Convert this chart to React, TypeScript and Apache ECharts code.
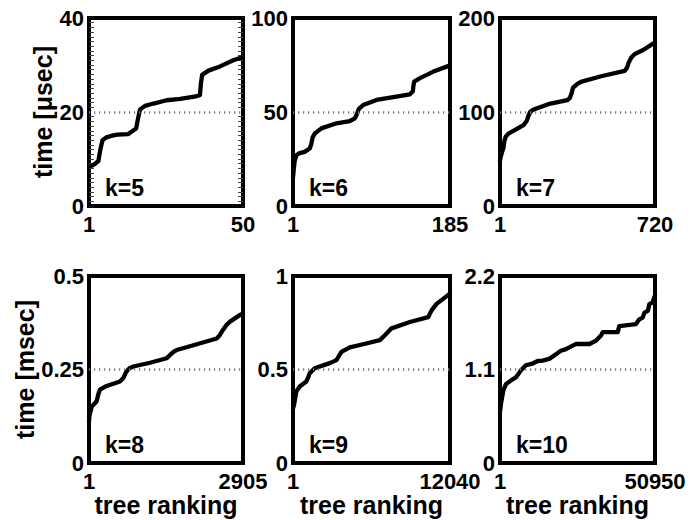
import React, { useEffect, useRef } from "react";
import * as echarts from "echarts";

// ---- data ----
const kLabels = ["k=5", "k=6", "k=7", "k=8", "k=9", "k=10"];
const ranks = [50, 185, 720, 2905, 12040, 50950];
const yMaxes = [40, 100, 200, 0.5, 1, 2.2];
const yTickLabels = [
  ["0", "20", "40"],
  ["0", "50", "100"],
  ["0", "100", "200"],
  ["0", "0.25", "0.5"],
  ["0", "0.5", "1"],
  ["0", "1.1", "2.2"],
];
const yNames = ["time [μsec]", "time [msec]"];
const xName = "tree ranking";

const k5 = [
  [1, 8.5], [2, 8.6], [3, 9], [4, 9.6], [4.6, 12], [5.3, 14], [6.5, 14.6], [8, 14.9],
  [10, 15.2], [13.5, 15.3], [14.5, 15.8], [16, 16.5], [16.6, 18.6], [17.2, 20.5],
  [18.8, 21.3], [21.5, 21.8], [25.7, 22.5], [30, 22.8], [35, 23.3], [36.3, 23.6],
  [36.6, 26], [37, 27.9], [39, 28.8], [42.7, 29.7], [46.9, 31], [50, 31.7],
];
const k6 = [
  [1, 15], [2, 20], [3, 24], [5, 27], [8, 28], [14.7, 28.8], [20.6, 30.6], [22.5, 33],
  [24, 36.5], [26.5, 38.6], [34.3, 41.3], [52, 44], [67.6, 45.2], [73.5, 46.6], [76, 49],
  [78, 51.5], [83.2, 53.7], [98.9, 56.4], [122, 58.2], [138, 59.4], [141.5, 61], [142, 63.5],
  [143, 66.2], [149.8, 68], [165.6, 71.5], [185, 74.8],
];
const k7 = [
  [1, 48], [4, 52], [10, 57], [17, 62], [22, 70], [28, 74], [40, 77], [79, 82], [110, 86],
  [126, 91], [133, 96], [141, 100], [155, 102.5], [173, 104], [235, 109], [314, 112.7],
  [325, 115], [333, 120], [340, 126], [360, 130], [376, 132], [470, 138], [579, 143.8],
  [590, 147], [597, 152], [610, 158], [625, 161.5], [665, 166], [720, 174],
];
const k8 = [
  [1, 0.11], [7, 0.125], [50, 0.15], [145, 0.165], [180, 0.185], [208, 0.196], [334, 0.206],
  [585, 0.218], [648, 0.227], [700, 0.243], [760, 0.253], [837, 0.258], [1152, 0.268],
  [1466, 0.28], [1529, 0.289], [1600, 0.298], [1655, 0.302], [1969, 0.315], [2409, 0.333],
  [2470, 0.342], [2504, 0.351], [2600, 0.37], [2661, 0.378], [2850, 0.396], [2905, 0.4],
];
const k9 = [
  [1, 0.29], [78, 0.31], [257, 0.383], [513, 0.409], [1025, 0.436], [1150, 0.455],
  [1281, 0.48], [1665, 0.507], [2818, 0.534], [3330, 0.55], [3550, 0.575], [3714, 0.594],
  [4355, 0.618], [5379, 0.635], [6660, 0.657], [7044, 0.683], [7556, 0.72], [8965, 0.754],
  [10373, 0.78], [10629, 0.816], [11013, 0.851], [11910, 0.899], [12040, 0.905],
];
const k10 = [
  [1, 0.6], [330, 0.7], [1100, 0.854], [2000, 0.93], [3600, 0.97], [5300, 1.01], [6900, 1.09],
  [8500, 1.15], [10700, 1.17], [12400, 1.2], [14000, 1.205], [16200, 1.225], [18400, 1.28],
  [20000, 1.32], [21700, 1.34], [23900, 1.38], [25000, 1.4], [29400, 1.4], [31600, 1.44],
  [33200, 1.5], [33800, 1.54], [38700, 1.54], [39200, 1.61], [44700, 1.635], [45800, 1.69],
  [46900, 1.71], [47500, 1.77], [48600, 1.79], [49100, 1.87], [50200, 1.89], [50700, 1.95],
  [50950, 1.97],
];
const seriesData = [k5, k6, k7, k8, k9, k10];

// ---- layout ----
const FONT = "Liberation Sans, Arial, Helvetica, sans-serif";
const cols = [
  { left: 89, width: 154 },
  { left: 293, width: 157 },
  { left: 500, width: 155 },
];
const rows = [
  { top: 18, height: 188 },
  { top: 276, height: 187 },
];

export default function App() {
  const ref = useRef<HTMLDivElement>(null);
  useEffect(() => {
    if (!ref.current) return;
    const chart = echarts.init(ref.current, null, { renderer: "svg" });
    const grids: any[] = [];
    const xAxes: any[] = [];
    const yAxes: any[] = [];
    const series: any[] = [];
    const graphics: any[] = [];
    const labelStyle = { fontFamily: FONT, fontWeight: "bold", fontSize: 22, color: "#000" };
    const nameStyle = { fontFamily: FONT, fontWeight: "bold", fontSize: 25, color: "#000" };

    for (let i = 0; i < 6; i++) {
      const r = Math.floor(i / 3);
      const c = i % 3;
      const col = cols[c];
      const row = rows[r];
      grids.push({
        left: col.left,
        top: row.top,
        width: col.width,
        height: row.height,
        show: true,
        borderWidth: 4,
        borderColor: "#000",
        backgroundColor: "transparent",
        containLabel: false,
        outerBoundsMode: "none",
      });
      const N = ranks[i];
      xAxes.push({
        type: "value",
        gridIndex: i,
        min: 1,
        max: N,
        axisLine: { show: false },
        axisTick: { show: false },
        splitLine: { show: false },
        axisLabel: {
          ...labelStyle,
          margin: 7,
          showMinLabel: true,
          showMaxLabel: true,
          formatter: (v: number) => (v === 1 || v === N ? String(v) : ""),
        },
        name: r === 1 ? xName : "",
        nameLocation: "middle",
        nameGap: 29,
        nameTextStyle: nameStyle,
      });
      const M = yMaxes[i];
      const labels = yTickLabels[i];
      yAxes.push({
        type: "value",
        gridIndex: i,
        min: 0,
        max: M,
        interval: M / 2,
        axisLine: { show: false },
        axisTick: { show: false, inside: true },
        splitLine: { show: false },
        minorTick:
          i === 0
            ? { show: true, splitNumber: 20, length: 5, lineStyle: { color: "#444", width: 1 } }
            : { show: false },
        minorSplitLine: { show: false },
        axisLabel: {
          ...labelStyle,
          margin: 5,
          formatter: (v: number) => {
            const idx = Math.round((v / M) * 2);
            return labels[idx] ?? "";
          },
        },
        name: c === 0 ? yNames[r] : "",
        nameLocation: "middle",
        nameGap: r === 0 ? 31 : 52,
        nameTextStyle: nameStyle,
      });
      series.push({
        type: "line",
        xAxisIndex: i,
        yAxisIndex: i,
        data: seriesData[i],
        symbol: "none",
        lineStyle: { color: "#000", width: 4.3, cap: "round", join: "round" },
        markLine: {
          silent: true,
          symbol: ["none", "none"],
          label: { show: false },
          lineStyle: { color: "#777", width: 2.5, type: [1.2, 3.8] },
          data: [{ yAxis: M / 2 }],
        },
        z: 3,
      });
      graphics.push({
        type: "text",
        left: col.left + 16,
        top: row.top + row.height - 30,
        style: {
          text: kLabels[i],
          font: `bold 23px ${FONT}`,
          fill: "#000",
        },
      });
    }
    // right-side minor ticks for first panel
    yAxes.push({
      type: "value",
      gridIndex: 0,
      position: "right",
      min: 0,
      max: yMaxes[0],
      interval: yMaxes[0] / 2,
      axisLine: { show: false },
      axisTick: { show: false, inside: true },
      axisLabel: { show: false },
      splitLine: { show: false },
      minorTick: { show: true, splitNumber: 20, length: 5, lineStyle: { color: "#444", width: 1 } },
      minorSplitLine: { show: false },
    });

    chart.setOption({
      animation: false,
      backgroundColor: "#fff",
      grid: grids,
      xAxis: xAxes,
      yAxis: yAxes,
      series,
      graphic: graphics,
    });
    return () => chart.dispose();
  }, []);
  return (
    <div
      ref={ref}
      style={{ position: "absolute", left: 0, top: 0, width: 691, height: 520 }}
    />
  );
}
